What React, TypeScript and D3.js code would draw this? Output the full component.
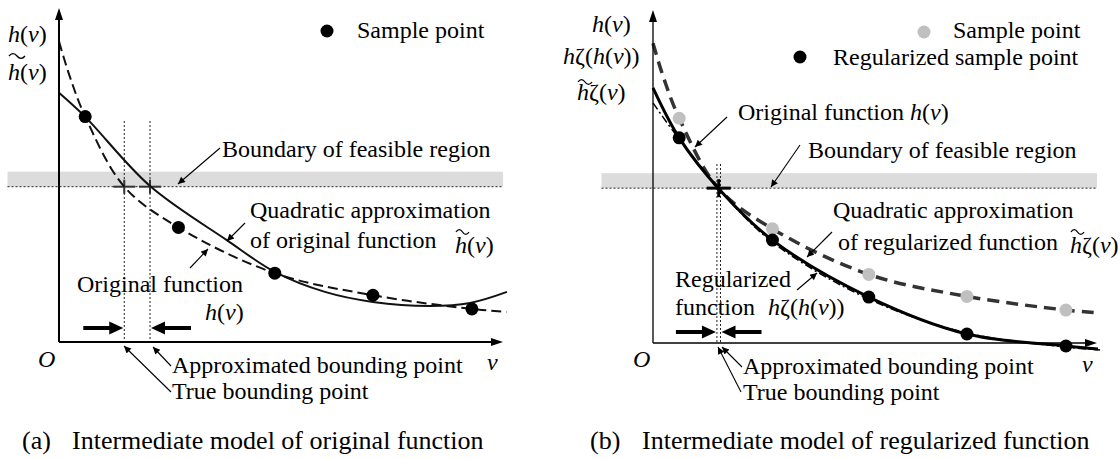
import React from "react";
import * as d3 from "d3";

// sample points shared by both panels (v, h)
const sampleV = [5.9, 26.9, 48.6, 70.7, 93];
const sampleH = [67.5, 34.3, 20.6, 14.0, 9.9];
const regularizedSampleH = [61.6, 30.9, 13.8, 2.7, -0.9];

// original function h(v)
const originalV = [0, 2.4, 5.9, 14.7, 26.9, 48.6, 70.7, 93, 100.8];
const originalH = [90, 79.6, 67.5, 46.5, 34.3, 20.6, 14.0, 9.9, 9.0];

// quadratic approximation of original function (a)
const approxV = [0, 5.9, 20.5, 37.8, 48.6, 59.9, 70.7, 83.6, 92.6, 100.9];
const approxH = [74.6, 67.4, 46.7, 30.5, 21.0, 15.0, 12.0, 10.8, 11.7, 15.0];

// regularized function (b)
const regV = [0, 5.9, 14.9, 26.9, 48.6, 70.7, 93, 100.2];
const regH = [76.6, 61.6, 46.2, 30.9, 13.8, 2.7, -0.9, -1.8];

// quadratic approximation of regularized function (b)
const regApproxV = [0, 5, 14.9, 26.9, 48.6, 70.7, 93, 100.7];
const regApproxH = [72.1, 62.8, 46.2, 30.3, 13.2, 3.0, -1.2, -2.1];

const boundaryH = 46.5;
const bandTopH = 51;
const bandV = [-11.6, 100];
const boundingA = [14.7, 20.5]; // true, approximated
const boundingB = [14.4, 15.2];

const FONT = "'Liberation Serif', 'Times New Roman', serif";

function curvePath(vs: number[], hs: number[], sx: any, sy: any) {
  const line = d3
    .line<number>()
    .x((d, i) => sx(vs[i]))
    .y((d) => sy(d))
    .curve(d3.curveCatmullRom.alpha(0.5));
  return line(hs) || "";
}

const Hv = ({ x, y }: any) => (
  <text x={x} y={y}>
    <tspan fontStyle="italic">h</tspan>(<tspan fontStyle="italic">v</tspan>)
  </text>
);

const Tilde = ({ x, y, w = 16 }: any) => (
  <path
    d={`M${x},${y + 1} c ${w * 0.15},-3.2 ${w * 0.35},-3.2 ${w * 0.5},0 s ${w * 0.35},3.2 ${w * 0.5},0`}
    fill="none"
    stroke="#000"
    strokeWidth={1.3}
  />
);

const Ann = ({ x1, y1, x2, y2 }: any) => (
  <line x1={x1} y1={y1} x2={x2} y2={y2} stroke="#000" strokeWidth={1.1} markerEnd="url(#ah)" />
);

const BigArrows = ({ xl, xr, y }: any) => (
  <g>
    <line x1={xl - 40} y1={y} x2={xl - 12} y2={y} stroke="#000" strokeWidth={4} />
    <path d={`M${xl - 14},${y - 6.5}L${xl},${y}L${xl - 14},${y + 6.5}Z`} fill="#000" />
    <line x1={xr + 12} y1={y} x2={xr + 40} y2={y} stroke="#000" strokeWidth={4} />
    <path d={`M${xr + 14},${y - 6.5}L${xr},${y}L${xr + 14},${y + 6.5}Z`} fill="#000" />
  </g>
);

const Cross = ({ x, y, w, h, sw, color }: any) => (
  <g stroke={color} strokeWidth={sw}>
    <line x1={x - w} y1={y} x2={x + w} y2={y} />
    <line x1={x} y1={y - h} x2={x} y2={y + h} />
  </g>
);

const Axes = ({ sx, sy, sw }: any) => {
  const x0 = sx(0), y0 = sy(0), x1 = sx(100), y1 = sy(100);
  return (
    <g>
      <line x1={x0} y1={y0} x2={x0} y2={y1 + 10} stroke="#000" strokeWidth={sw} />
      <path d={`M${x0 - 4},${y1 + 12}L${x0},${y1}L${x0 + 4},${y1 + 12}Z`} fill="#000" />
      <line x1={x0} y1={y0} x2={x1 - 10} y2={y0} stroke="#000" strokeWidth={sw} />
      <path d={`M${x1 - 12},${y0 - 4}L${x1},${y0}L${x1 - 12},${y0 + 4}Z`} fill="#000" />
    </g>
  );
};

export default function App() {
  const ax = d3.scaleLinear().domain([0, 100]).range([59, 503]);
  const ay = d3.scaleLinear().domain([0, 100]).range([342, 8]);
  const bx = d3.scaleLinear().domain([0, 100]).range([653, 1097]);
  const by = d3.scaleLinear().domain([0, 100]).range([343, 10]);

  const band = (sx: any, sy: any) => (
    <g>
      <rect
        x={sx(bandV[0])}
        y={sy(bandTopH)}
        width={sx(bandV[1]) - sx(bandV[0])}
        height={sy(boundaryH) - sy(bandTopH)}
        fill="#dcdcdc"
      />
      <line
        x1={sx(bandV[0])}
        x2={sx(bandV[1])}
        y1={sy(boundaryH)}
        y2={sy(boundaryH)}
        stroke="#222"
        strokeWidth={1}
        strokeDasharray="2,2"
      />
    </g>
  );

  return (
    <svg
      width={1120}
      height={459}
      style={{ position: "absolute", left: 0, top: 0, background: "#fff" }}
      fontFamily={FONT}
      fontSize={24}
    >
      <defs>
        <marker id="ah" viewBox="0 0 10 10" refX="10" refY="5" markerWidth="10" markerHeight="7"
          orient="auto" markerUnits="userSpaceOnUse">
          <path d="M0,0L10,5L0,10z" fill="#000" />
        </marker>
      </defs>

      {/* ---------- panel (a) ---------- */}
      <g>
        {band(ax, ay)}
        {boundingA.map((v, i) => (
          <line key={i} x1={ax(v)} x2={ax(v)} y1={121} y2={ay(0)} stroke="#222" strokeWidth={1} strokeDasharray="2,2" />
        ))}
        {boundingA.map((v, i) => (
          <Cross key={i} x={ax(v)} y={ay(boundaryH)} w={11} h={7} sw={2} color="#333" />
        ))}
        <path d={curvePath(originalV, originalH, ax, ay)} fill="none" stroke="#111" strokeWidth={2} strokeDasharray="10,5" />
        <path d={curvePath(approxV, approxH, ax, ay)} fill="none" stroke="#111" strokeWidth={2} />
        {sampleV.map((v, i) => (
          <circle key={i} cx={ax(v)} cy={ay(sampleH[i])} r={6.5} fill="#000" />
        ))}
        <Axes sx={ax} sy={ay} sw={2} />
        <BigArrows xl={ax(boundingA[0]) - 1} xr={ax(boundingA[1]) + 1} y={328} />

        <Hv x={8} y={42} />
        <Hv x={8} y={80} />
        <Tilde x={9} y={55} w={16} />
        <circle cx={327} cy={31} r={6.5} fill="#000" />
        <text x={357} y={38}>Sample point</text>
        <text x={222} y={157}>Boundary of feasible region</text>
        <Ann x1={220} y1={148} x2={178} y2={184} />
        <text x={250} y={218}>Quadratic approximation</text>
        <text x={250} y={248}>of original function</text>
        <Hv x={455} y={253} />
        <Tilde x={456} y={231} w={13} />
        <Ann x1={245} y1={223} x2={227} y2={241} />
        <text x={77} y={292}>Original function</text>
        <Hv x={205} y={320} />
        <Ann x1={190} y1={268} x2={208} y2={249} />
        <text x={38} y={367} fontStyle="italic">O</text>
        <text x={487} y={370} fontStyle="italic">v</text>
        <text x={172} y={373}>Approximated bounding point</text>
        <text x={172} y={399}>True bounding point</text>
        <Ann x1={171} y1={366} x2={153} y2={347} />
        <Ann x1={171} y1={392} x2={124} y2={346} />
        <text x={22} y={449} fontSize={26}>(a)</text>
        <text x={72} y={449} fontSize={26}>Intermediate model of original function</text>
      </g>

      {/* ---------- panel (b) ---------- */}
      <g>
        {band(bx, by)}
        {boundingB.map((v, i) => (
          <line key={i} x1={bx(v)} x2={bx(v)} y1={164} y2={by(0)} stroke="#222" strokeWidth={1} strokeDasharray="2,2" />
        ))}
        <path d={curvePath(originalV, originalH, bx, by)} fill="none" stroke="#333" strokeWidth={3.5} strokeDasharray="12,7" />
        <path d={curvePath(regV, regH, bx, by)} fill="none" stroke="#000" strokeWidth={3} />
        <path d={curvePath(regApproxV, regApproxH, bx, by)} fill="none" stroke="#000" strokeWidth={1.5} strokeDasharray="8,3,2,3" />
        <Cross x={bx((boundingB[0] + boundingB[1]) / 2)} y={by(boundaryH)} w={12} h={9} sw={3} color="#000" />
        {sampleV.map((v, i) => (
          <circle key={"g" + i} cx={bx(v)} cy={by(sampleH[i])} r={6.5} fill="#c0c0c0" />
        ))}
        {sampleV.map((v, i) => (
          <circle key={"k" + i} cx={bx(v)} cy={by(regularizedSampleH[i])} r={6.5} fill="#000" />
        ))}
        <Axes sx={bx} sy={by} sw={1.3} />
        <BigArrows xl={bx(boundingB[0]) - 1} xr={bx(boundingB[1]) + 1} y={332} />

        <Hv x={592} y={32} />
        <text x={563} y={64}>
          <tspan fontStyle="italic">h</tspan>ζ(<tspan fontStyle="italic">h</tspan>(<tspan fontStyle="italic">v</tspan>))
        </text>
        <text x={577} y={100}>
          <tspan fontStyle="italic">h</tspan>ζ(<tspan fontStyle="italic">v</tspan>)
        </text>
        <Tilde x={578} y={81} w={14} />
        <circle cx={924} cy={32} r={6.5} fill="#c0c0c0" />
        <text x={953} y={38}>Sample point</text>
        <circle cx={800} cy={57} r={6.5} fill="#000" />
        <text x={833} y={65}>Regularized sample point</text>
        <text x={738} y={120}>Original function</text>
        <Hv x={910} y={120} />
        <Ann x1={727} y1={117} x2={695} y2={147} />
        <text x={808} y={158}>Boundary of feasible region</text>
        <Ann x1={800} y1={145} x2={771} y2={187} />
        <text x={833} y={218}>Quadratic approximation</text>
        <text x={838} y={250}>of regularized function</text>
        <text x={1070} y={253}>
          <tspan fontStyle="italic">h</tspan>ζ(<tspan fontStyle="italic">v</tspan>)
        </text>
        <Tilde x={1071} y={231} w={13} />
        <Ann x1={832} y1={232} x2={807} y2={257} />
        <text x={675} y={287}>Regularized</text>
        <text x={675} y={315}>function</text>
        <text x={768} y={315}>
          <tspan fontStyle="italic">h</tspan>ζ(<tspan fontStyle="italic">h</tspan>(<tspan fontStyle="italic">v</tspan>))
        </text>
        <Ann x1={797} y1={290} x2={817} y2={273} />
        <text x={633} y={367} fontStyle="italic">O</text>
        <text x={1082} y={372} fontStyle="italic">v</text>
        <text x={743} y={374}>Approximated bounding point</text>
        <text x={743} y={400}>True bounding point</text>
        <Ann x1={742} y1={367} x2={722} y2={347} />
        <Ann x1={741} y1={392} x2={718} y2={347} />
        <text x={590} y={449} fontSize={26}>(b)</text>
        <text x={642} y={449} fontSize={26}>Intermediate model of regularized function</text>
      </g>
    </svg>
  );
}
